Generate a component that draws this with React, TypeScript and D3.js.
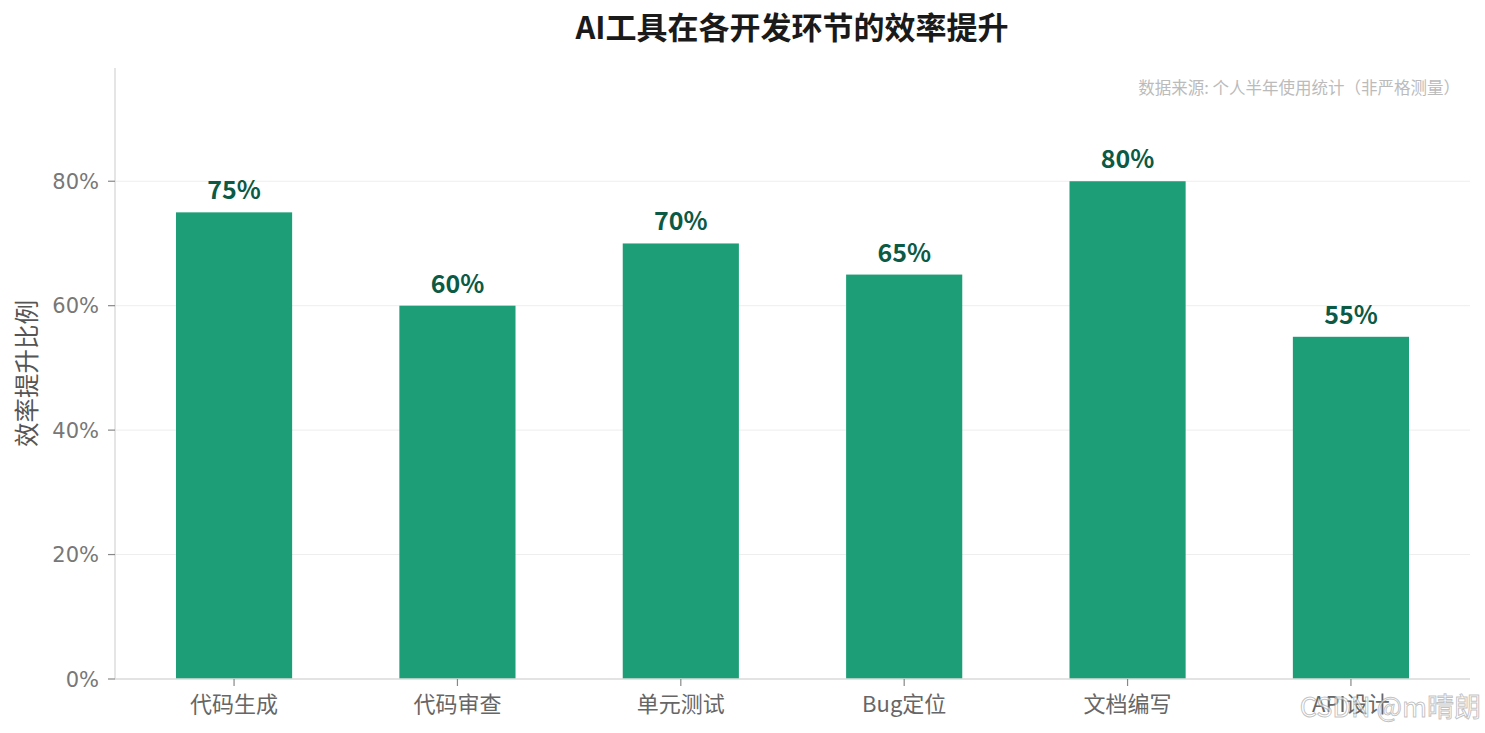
import React from 'react';
import * as d3 from 'd3';

const categories = ['代码生成', '代码审查', '单元测试', 'Bug定位', '文档编写', 'API设计'];
const gains = [75, 60, 70, 65, 80, 55];
const yTicks = [0, 20, 40, 60, 80];

const W = 1485;
const H = 733;
const FONT = '"Noto Sans CJK SC", "Noto Sans", sans-serif';
const TICK_FONT = '"DejaVu Sans", "Noto Sans CJK SC", sans-serif';

const App: React.FC = () => {
  const left = 115;
  const right = 1470;
  const top = 68;
  const bottom = 679;

  const x = d3.scaleLinear().domain([-0.533, categories.length - 1 + 0.533]).range([left, right]);
  const y = d3.scaleLinear().domain([0, 98.2]).range([bottom, top]);
  const barW = x(0.52) - x(0);

  return (
    <svg width={W} height={H} style={{ position: 'absolute', left: 0, top: 0, fontFamily: FONT }}>
      <rect width={W} height={H} fill="#fff" />

      {/* grid */}
      {yTicks.map((t) => (
        <line key={t} x1={left} x2={right} y1={y(t)} y2={y(t)} stroke="#eeeeee" strokeWidth={1} />
      ))}

      {/* bars */}
      {gains.map((v, i) => (
        <g key={categories[i]}>
          <rect x={x(i) - barW / 2} y={y(v)} width={barW} height={y(0) - y(v)} fill="#1e9e76" />
          <text
            x={x(i)}
            y={y(v) - 13}
            textAnchor="middle"
            fontSize={25}
            fontWeight="bold"
            fill="#0b5a45"
          >
            {v}%
          </text>
        </g>
      ))}

      {/* spines */}
      <line x1={left} x2={left} y1={top} y2={bottom} stroke="#dddddd" strokeWidth={1.5} />
      <line x1={left} x2={right} y1={bottom} y2={bottom} stroke="#dddddd" strokeWidth={1.5} />

      {/* y ticks */}
      {yTicks.map((t) => (
        <g key={t}>
          <line x1={left - 7} x2={left} y1={y(t)} y2={y(t)} stroke="#888" strokeWidth={1.2} />
          <text
            x={left - 16}
            y={y(t)}
            dy="0.36em"
            textAnchor="end"
            fontSize={21}
            fill="#777"
            fontFamily={TICK_FONT}
          >
            {t}%
          </text>
        </g>
      ))}

      {/* x ticks */}
      {categories.map((c, i) => (
        <g key={c}>
          <line x1={x(i)} x2={x(i)} y1={bottom} y2={bottom + 7} stroke="#888" strokeWidth={1.2} />
          <text x={x(i)} y={bottom + 33} textAnchor="middle" fontSize={22} fill="#666">
            {c}
          </text>
        </g>
      ))}

      {/* y label */}
      <text
        transform={`translate(36, ${(top + bottom) / 2}) rotate(-90)`}
        textAnchor="middle"
        fontSize={24.5}
        fill="#555"
      >
        效率提升比例
      </text>

      {/* title */}
      <text x={792} y={39} textAnchor="middle" fontSize={31} fontWeight="bold" fill="#1a1a1a">
        AI工具在各开发环节的效率提升
      </text>

      {/* source note */}
      <text x={1460} y={94} textAnchor="end" fontSize={16.5} fill="#bbbbbb">
        数据来源: 个人半年使用统计（非严格测量）
      </text>

      {/* watermark */}
      <text
        x={1481}
        y={717}
        textAnchor="end"
        fontSize={27}
        fill="rgba(255,255,255,0.6)"
        stroke="rgba(120,120,120,0.45)"
        strokeWidth={1}
      >
        CSDN @m晴朗
      </text>
    </svg>
  );
};

export default App;
